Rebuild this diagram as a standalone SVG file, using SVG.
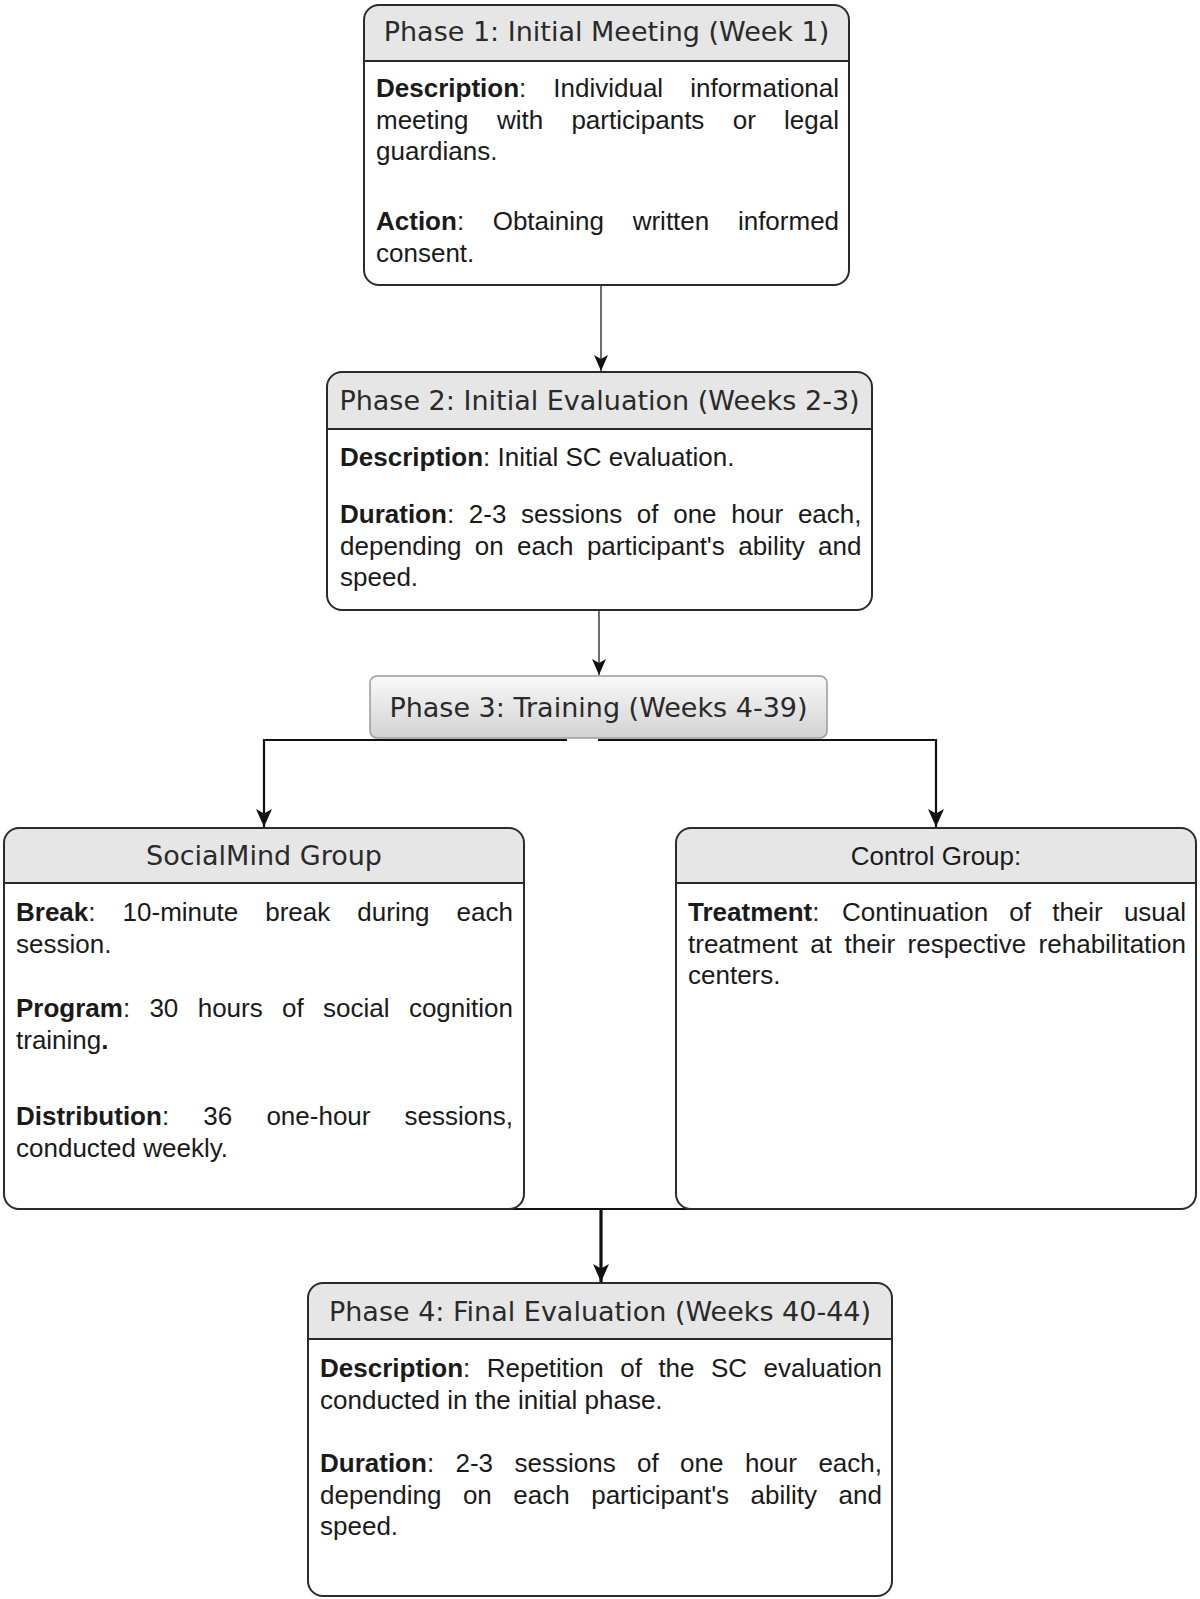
<svg xmlns="http://www.w3.org/2000/svg" width="1200" height="1599" viewBox="0 0 1200 1599">
<style>
.box{fill:none;stroke:#2b2b2b;stroke-width:2}
.bg{fill:#ffffff}
.hd{fill:#e6e6e6}
.div{stroke:#2b2b2b;stroke-width:2}
.t{font-family:"DejaVu Sans",Verdana,sans-serif;font-size:27px;fill:#2a2a2a}
.b{font-family:"Liberation Sans",Arial,sans-serif;font-size:26px;fill:#1a1a1a}
.k{font-weight:bold}
.c1{fill:none;stroke:#4a4a4a;stroke-width:1.6}
.c2{fill:none;stroke:#111;stroke-width:2.2}
.c3{fill:none;stroke:#111;stroke-width:3.2}
</style>
<defs>
<marker id="a1" markerUnits="userSpaceOnUse" viewBox="0 0 16 14" refX="16" refY="7" markerWidth="16" markerHeight="14" orient="auto">
<path d="M0,0 L16,7 L0,14 L4,7 Z" fill="#111"/>
</marker>
<marker id="a2" markerUnits="userSpaceOnUse" viewBox="0 0 18 16" refX="18" refY="8" markerWidth="18" markerHeight="16" orient="auto">
<path d="M0,0 L18,8 L0,16 L4.5,8 Z" fill="#111"/>
</marker>
<linearGradient id="g3" x1="0" y1="0" x2="0" y2="1">
<stop offset="0" stop-color="#f9f9f9"/>
<stop offset="1" stop-color="#d2d2d2"/>
</linearGradient>
</defs>
<rect width="1200" height="1599" fill="#ffffff"/>

<g id="connectors">
<line class="c1" x1="601" y1="286" x2="601" y2="371" marker-end="url(#a1)"/>
<line class="c1" x1="599" y1="611" x2="599" y2="675" marker-end="url(#a1)"/>
<polyline class="c2" points="567,740 264,740 264,827" marker-end="url(#a2)"/>
<polyline class="c2" points="598,740 936,740 936,827" marker-end="url(#a2)"/>
<line class="c2" x1="264" y1="1209" x2="936" y2="1209"/>
<line class="c3" x1="601" y1="1209" x2="601" y2="1282" marker-end="url(#a2)"/>
</g>

<g id="phase1">
<rect class="bg" x="364" y="5" width="485" height="280" rx="15"/>
<path class="hd" d="M364,61 V20 Q364,5 379,5 H834 Q849,5 849,20 V61 Z"/>
<line class="div" x1="364" y1="61" x2="849" y2="61"/>
<rect class="box" x="364" y="5" width="485" height="280" rx="15"/>
<text class="t" x="606.5" y="41" text-anchor="middle">Phase 1: Initial Meeting (Week 1)</text>
<text class="b"><tspan x="376" y="97" class="k">Description</tspan><tspan>:</tspan><tspan x="553.3">Individual</tspan><tspan x="690.2">informational</tspan></text>
<text class="b"><tspan x="376" y="129">meeting</tspan><tspan x="496.9">with</tspan><tspan x="571.4">participants</tspan><tspan x="732.7">or</tspan><tspan x="784.1">legal</tspan></text>
<text class="b" x="376" y="160">guardians.</text>
<text class="b"><tspan x="376" y="230" class="k">Action</tspan><tspan>:</tspan><tspan x="492.7">Obtaining</tspan><tspan x="632.7">written</tspan><tspan x="737.9">informed</tspan></text>
<text class="b" x="376" y="262">consent.</text>
</g>

<g id="phase2">
<rect class="bg" x="327" y="372" width="545" height="238" rx="15"/>
<path class="hd" d="M327,429 V387 Q327,372 342,372 H857 Q872,372 872,387 V429 Z"/>
<line class="div" x1="327" y1="429" x2="872" y2="429"/>
<rect class="box" x="327" y="372" width="545" height="238" rx="15"/>
<text class="t" x="599.5" y="410" text-anchor="middle">Phase 2: Initial Evaluation (Weeks 2-3)</text>
<text class="b"><tspan x="340" y="466" class="k">Description</tspan><tspan>: Initial SC evaluation.</tspan></text>
<text class="b"><tspan x="340" y="523" class="k">Duration</tspan><tspan>:</tspan><tspan x="468.8">2-3</tspan><tspan x="521">sessions</tspan><tspan x="636.8">of</tspan><tspan x="673.2">one</tspan><tspan x="731.2">hour</tspan><tspan x="797.9">each,</tspan></text>
<text class="b"><tspan x="340" y="555">depending</tspan><tspan x="474.8">on</tspan><tspan x="517.1">each</tspan><tspan x="586.9">participant's</tspan><tspan x="738.2">ability</tspan><tspan x="818.1">and</tspan></text>
<text class="b" x="340" y="586">speed.</text>
</g>

<g id="phase3">
<rect x="370" y="676" width="457" height="62" rx="7" fill="url(#g3)" stroke="#9a9a9a" stroke-width="1.5"/>
<text class="t" x="598.5" y="717" text-anchor="middle">Phase 3: Training (Weeks 4-39)</text>
</g>

<g id="socialmind">
<rect class="bg" x="4" y="828" width="520" height="381" rx="15"/>
<path class="hd" d="M4,883 V843 Q4,828 19,828 H509 Q524,828 524,843 V883 Z"/>
<line class="div" x1="4" y1="883" x2="524" y2="883"/>
<rect class="box" x="4" y="828" width="520" height="381" rx="15"/>
<text class="t" x="264" y="865" text-anchor="middle">SocialMind Group</text>
<text class="b"><tspan x="16" y="921" class="k">Break</tspan><tspan>:</tspan><tspan x="122.6">10-minute</tspan><tspan x="265.2">break</tspan><tspan x="357.3">during</tspan><tspan x="456.6">each</tspan></text>
<text class="b" x="16" y="953">session.</text>
<text class="b"><tspan x="16" y="1017" class="k">Program</tspan><tspan>:</tspan><tspan x="149.4">30</tspan><tspan x="197.7">hours</tspan><tspan x="282">of</tspan><tspan x="323.1">social</tspan><tspan x="408.9">cognition</tspan></text>
<text class="b"><tspan x="16" y="1049">training</tspan><tspan class="k">.</tspan></text>
<text class="b"><tspan x="16" y="1125" class="k">Distribution</tspan><tspan>:</tspan><tspan x="203.3">36</tspan><tspan x="266.4">one-hour</tspan><tspan x="404.6">sessions,</tspan></text>
<text class="b" x="16" y="1157">conducted weekly.</text>
</g>

<g id="control">
<rect class="bg" x="676" y="828" width="520" height="381" rx="15"/>
<path class="hd" d="M676,883 V843 Q676,828 691,828 H1181 Q1196,828 1196,843 V883 Z"/>
<line class="div" x1="676" y1="883" x2="1196" y2="883"/>
<rect class="box" x="676" y="828" width="520" height="381" rx="15"/>
<text class="b" x="936" y="865" text-anchor="middle">Control Group:</text>
<text class="b"><tspan x="688" y="921" class="k">Treatment</tspan><tspan>:</tspan><tspan x="842.1">Continuation</tspan><tspan x="1009.3">of</tspan><tspan x="1052.2">their</tspan><tspan x="1123.9">usual</tspan></text>
<text class="b"><tspan x="688" y="953">treatment</tspan><tspan x="810.3">at</tspan><tspan x="844.5">their</tspan><tspan x="907.6">respective</tspan><tspan x="1038.6">rehabilitation</tspan></text>
<text class="b" x="688" y="984">centers.</text>
</g>

<g id="phase4">
<rect class="bg" x="308" y="1283" width="584" height="313" rx="15"/>
<path class="hd" d="M308,1339 V1298 Q308,1283 323,1283 H877 Q892,1283 892,1298 V1339 Z"/>
<line class="div" x1="308" y1="1339" x2="892" y2="1339"/>
<rect class="box" x="308" y="1283" width="584" height="313" rx="15"/>
<text class="t" x="600" y="1321" text-anchor="middle">Phase 4: Final Evaluation (Weeks 40-44)</text>
<text class="b"><tspan x="320" y="1377" class="k">Description</tspan><tspan>:</tspan><tspan x="486.7">Repetition</tspan><tspan x="620.3">of</tspan><tspan x="658.4">the</tspan><tspan x="711">SC</tspan><tspan x="763.5">evaluation</tspan></text>
<text class="b" x="320" y="1409">conducted in the initial phase.</text>
<text class="b"><tspan x="320" y="1472" class="k">Duration</tspan><tspan>:</tspan><tspan x="455.5">2-3</tspan><tspan x="514.5">sessions</tspan><tspan x="637">of</tspan><tspan x="680.1">one</tspan><tspan x="744.9">hour</tspan><tspan x="818.4">each,</tspan></text>
<text class="b"><tspan x="320" y="1504">depending</tspan><tspan x="462.9">on</tspan><tspan x="513.3">each</tspan><tspan x="591.2">participant's</tspan><tspan x="750.6">ability</tspan><tspan x="838.6">and</tspan></text>
<text class="b" x="320" y="1535">speed.</text>
</g>
</svg>
